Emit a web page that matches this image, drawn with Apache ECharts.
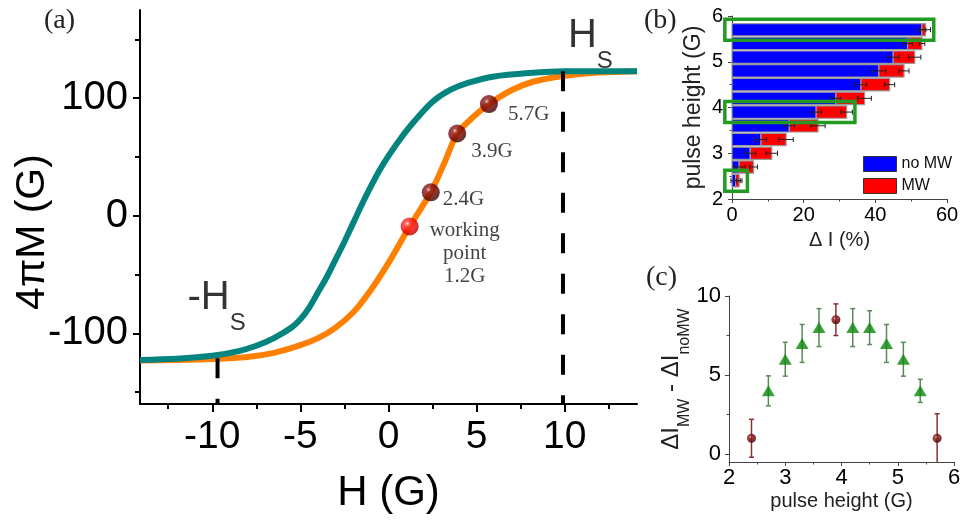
<!DOCTYPE html>
<html>
<head>
<meta charset="utf-8">
<script src="https://cdn.jsdelivr.net/npm/echarts@6/dist/echarts.min.js"></script>
<style>
html, body { margin: 0; padding: 0; background: #fff; }
#chart { width: 962px; height: 523px; }
</style>
</head>
<body>
<div id="chart"></div>
<script>
// ---- Panel (a): magnetisation curves 4πM(H) ----
const fieldOrange  = [-14.1, -12, -10, -8, -6.5, -5, -4, -3, -2, -1, 0, 1.2, 2.4, 3.2, 3.9, 4.8, 5.7, 7, 8.2, 9.7, 11.5, 14.1];
const momentOrange = [-123, -122.6, -121.8, -120, -116.5, -110, -104, -95, -82, -63, -40, -9, 20, 46, 70, 84, 95, 107, 114, 118.5, 121.5, 123];
const fieldTeal    = [-14.1, -12, -10, -8.5, -7.5, -6.5, -5.5, -5, -4.5, -4, -3.5, -3, -2.5, -2, -1.5, -1, -0.5, 0, 0.7, 1.5, 2.5, 3.5, 4.5, 6, 8, 10, 14.1];
const momentTeal   = [-122.5, -121.5, -119, -115, -110.5, -104, -95, -88, -78, -65, -52, -37, -22, -6, 10, 25, 39, 51, 66, 81, 97, 107, 113, 118.5, 121.5, 123, 123];
const pulseFields  = [1.2, 2.4, 3.9, 5.7];
const pulseMoments = [-9, 20, 70, 95];
const saturationFields  = [-9.7, 9.9];
const saturationMoments = [-121, 123];
const axisFloorA = -160;

// ---- Panel (b): ΔI versus pulse height ----
const pulseHeights = [2.4, 2.7, 3.0, 3.3, 3.6, 3.9, 4.2, 4.5, 4.8, 5.1, 5.4, 5.7];
const deltaNoMW    = [1.0, 2.0, 5.1, 8.1, 16.0, 23.5, 29.0, 36.0, 41.0, 45.0, 49.0, 53.0];
const deltaMW      = [2.0, 6.0, 11.1, 15.1, 24.0, 32.0, 37.0, 44.0, 48.0, 51.0, 53.0, 54.0];
const errNoMW      = [1.3, 1.6, 1.5, 1.5, 1.45, 1.5, 1.35, 1.6, 1.9, 1.6, 1.35, 1.1];
const errMW        = [0.8, 1.1, 1.6, 2.0, 2.0, 1.6, 1.9, 1.4, 1.4, 1.7, 0.8, 1.4];
const highlightedPulses = [2.4, 3.9, 5.7];

// ---- Panel (c): ΔI_MW − ΔI_noMW ----
const diffPulse  = [2.7, 3.0, 3.3, 3.6, 4.2, 4.5, 4.8, 5.1, 5.4];
const diffValue  = [4, 6, 7, 8, 8, 8, 7, 6, 4];
const diffErr    = [0.95, 1.07, 1.2, 1.2, 1.2, 1.07, 1.2, 1.07, 0.73];
const markedPulse = [2.4, 3.9, 5.7];
const markedValue = [1, 8.5, 1];
const markedErr   = [1.2, 1.0, 1.55];

// tick values
const ticksAx = [-10, -5, 0, 5, 10];
const minorAx = [-12.5, -7.5, -2.5, 2.5, 7.5, 12.5];
const ticksAy = [-100, 0, 100];
const minorAy = [-150, -50, 50, 150];
const ticksCy = [0, 5, 10];
const minorCy = [2.5, 7.5];

const SANS = 'Liberation Sans, Arial, sans-serif';
const SERIF = 'Liberation Serif, Times New Roman, serif';

const redBall = {
  type: 'radial', x: 0.38, y: 0.35, r: 0.65,
  colorStops: [
    { offset: 0, color: '#ffe6e6' }, { offset: 0.22, color: '#ff3b3b' },
    { offset: 0.7, color: '#ee0000' }, { offset: 1, color: '#b00000' }
  ]
};
const darkBall = {
  type: 'radial', x: 0.38, y: 0.35, r: 0.65,
  colorStops: [
    { offset: 0, color: '#e0bcbc' }, { offset: 0.22, color: '#901c1c' },
    { offset: 0.7, color: '#6a0000' }, { offset: 1, color: '#3c0000' }
  ]
};

const zip = (a, b) => a.map((v, i) => [v, b[i]]);

// label placement around the pulse markers on the orange curve
const pulseLabelLayout = [
  { position: [64, 2], align: 'center', verticalAlign: 'top', lineHeight: 23,
    formatter: p => 'working\npoint\n' + p.value[0].toFixed(1) + 'G' },
  { position: [21, 16], align: 'left', verticalAlign: 'middle', formatter: p => p.value[0].toFixed(1) + 'G' },
  { position: [23, 27], align: 'left', verticalAlign: 'middle', formatter: p => p.value[0].toFixed(1) + 'G' },
  { position: [28, 19], align: 'left', verticalAlign: 'middle', formatter: p => p.value[0].toFixed(1) + 'G' }
];

const pulseMarkers = pulseFields.map((h, i) => ({
  value: [h, pulseMoments[i]],
  itemStyle: { color: i === 0 ? redBall : darkBall },
  label: Object.assign({ show: true, fontFamily: SERIF, fontSize: 21, color: '#111' }, pulseLabelLayout[i])
}));

// horizontal bar segment [pulse, from, to]
const BAR_HALF = 0.135;
function hSegment(fill) {
  return function (params, api) {
    const p = api.value(0), a = api.value(1), b = api.value(2);
    const s = api.coord([a, p + BAR_HALF]);
    const e = api.coord([b, p - BAR_HALF]);
    return {
      type: 'rect',
      shape: { x: s[0], y: s[1], width: e[0] - s[0], height: e[1] - s[1] },
      style: { fill: fill, stroke: '#9a9a9a', lineWidth: 1.2 }
    };
  };
}

// horizontal error bar [x, pulse, err]
function hError(params, api) {
  const x = api.value(0), p = api.value(1), e = api.value(2);
  const l = api.coord([x - e, p]), r = api.coord([x + e, p]);
  const c = 2.5, st = { stroke: '#222', lineWidth: 1 };
  return { type: 'group', children: [
    { type: 'line', shape: { x1: l[0], y1: l[1], x2: r[0], y2: r[1] }, style: st },
    { type: 'line', shape: { x1: l[0], y1: l[1] - c, x2: l[0], y2: l[1] + c }, style: st },
    { type: 'line', shape: { x1: r[0], y1: r[1] - c, x2: r[0], y2: r[1] + c }, style: st }
  ]};
}

// vertical error bar [pulse, value, err]
function vError(color) {
  return function (params, api) {
    const x = api.value(0), y = api.value(1), e = api.value(2);
    const t = api.coord([x, y + e]), b = api.coord([x, y - e]);
    const c = 2.5, st = { stroke: color, lineWidth: 1.5 };
    return { type: 'group', children: [
      { type: 'line', shape: { x1: t[0], y1: t[1], x2: b[0], y2: b[1] }, style: st },
      { type: 'line', shape: { x1: t[0] - c, y1: t[1], x2: t[0] + c, y2: t[1] }, style: st },
      { type: 'line', shape: { x1: b[0] - c, y1: b[1], x2: b[0] + c, y2: b[1] }, style: st }
    ]};
  };
}

// green frame around a highlighted bar [pulse, MW value]
function frameBox(params, api) {
  const p = api.value(0), v = api.value(1);
  const s = api.coord([-2, p + 0.23]);
  const e = api.coord([v + 2.3, p - 0.23]);
  return {
    type: 'rect',
    shape: { x: s[0], y: s[1], width: e[0] - s[0], height: e[1] - s[1] },
    style: { fill: 'none', stroke: '#239b23', lineWidth: 3.5 }
  };
}

const black = '#000';
const thinAxis = { onZero: false, lineStyle: { color: '#444', width: 1 } };
const subRich = () => ({
  h: { fontSize: 40, fontFamily: SANS, color: black },
  s: { fontSize: 24, fontFamily: SANS, color: black, padding: [50, 0, 0, 0] }
});

const option = {
  animation: false,
  backgroundColor: '#fff',
  title: [
    { text: '(a)', left: 39, top: 2, textStyle: { fontFamily: SERIF, fontSize: 28, fontWeight: 'normal', color: '#222' } },
    { text: '(b)', left: 639, top: 2, textStyle: { fontFamily: SERIF, fontSize: 28, fontWeight: 'normal', color: '#222' } },
    { text: '(c)', left: 641, top: 259, textStyle: { fontFamily: SERIF, fontSize: 28, fontWeight: 'normal', color: '#222' } }
  ],
  legend: {
    orient: 'vertical', left: 858, top: 151, itemWidth: 33, itemHeight: 15, itemGap: 6,
    icon: 'rect', selectedMode: false,
    textStyle: { fontFamily: SANS, fontSize: 16, color: '#111' },
    data: [
      { name: 'no MW', itemStyle: { color: '#0000ff', borderColor: '#333', borderWidth: 1 } },
      { name: 'MW', itemStyle: { color: '#ff0000', borderColor: '#333', borderWidth: 1 } }
    ]
  },
  grid: [
    { left: 140, top: 10, width: 497, height: 394, outerBoundsMode: 'none' },
    { left: 732, top: 16, width: 215, height: 183, outerBoundsMode: 'none' },
    { left: 729, top: 296, width: 225, height: 166, outerBoundsMode: 'none' }
  ],
  xAxis: [
    { gridIndex: 0, type: 'value', min: -14.1, max: 14.1,
      axisLine: { onZero: false, lineStyle: { color: black, width: 2 } },
      axisTick: { customValues: ticksAx, length: 8, lineStyle: { color: black, width: 2 } },
      axisLabel: { customValues: ticksAx, fontFamily: SANS, fontSize: 39, color: black, margin: 14 },
      splitLine: { show: false },
      name: 'H (G)', nameLocation: 'middle', nameGap: 68, nameMoveOverlap: false,
      nameTextStyle: { fontFamily: SANS, fontSize: 42, color: black } },
    { gridIndex: 0, type: 'value', min: -14.1, max: 14.1, position: 'bottom',
      axisLine: { show: false, onZero: false },
      axisTick: { customValues: minorAx, length: 5, lineStyle: { color: black, width: 2 } },
      axisLabel: { show: false }, splitLine: { show: false } },
    { gridIndex: 1, type: 'value', min: 0, max: 60, interval: 20,
      axisLine: thinAxis,
      axisTick: { length: 4, lineStyle: { color: '#444' } },
      minorTick: { show: true, splitNumber: 2, length: 2.5, lineStyle: { color: '#444' } },
      axisLabel: { fontFamily: SANS, fontSize: 20, color: black, margin: 6 },
      splitLine: { show: false },
      name: 'Δ I (%)', nameLocation: 'middle', nameGap: 31, nameMoveOverlap: false,
      nameTextStyle: { fontFamily: SANS, fontSize: 20, color: '#222' } },
    { gridIndex: 2, type: 'value', min: 2, max: 6, interval: 1,
      axisLine: thinAxis,
      axisTick: { length: 4, lineStyle: { color: '#444' } },
      minorTick: { show: true, splitNumber: 2, length: 2.5, lineStyle: { color: '#444' } },
      axisLabel: { fontFamily: SANS, fontSize: 22, color: black, margin: 5 },
      splitLine: { show: false },
      name: 'pulse height (G)', nameLocation: 'middle', nameGap: 29, nameMoveOverlap: false,
      nameTextStyle: { fontFamily: SANS, fontSize: 20, color: '#222' } }
  ],
  yAxis: [
    { gridIndex: 0, type: 'value', min: -160, max: 175,
      axisLine: { onZero: false, lineStyle: { color: black, width: 2 } },
      axisTick: { customValues: ticksAy, length: 7, lineStyle: { color: black, width: 2 } },
      axisLabel: { customValues: ticksAy, fontFamily: SANS, fontSize: 40, color: black, margin: 12 },
      splitLine: { show: false },
      name: '4πM (G)', nameLocation: 'middle', nameRotate: 90, nameGap: 87, nameMoveOverlap: false,
      nameTextStyle: { fontFamily: SANS, fontSize: 41, color: black, padding: [0, 50, 0, 0] } },
    { gridIndex: 0, type: 'value', min: -160, max: 175, position: 'left',
      axisLine: { show: false, onZero: false },
      axisTick: { customValues: minorAy, length: 5, lineStyle: { color: black, width: 2 } },
      axisLabel: { show: false }, splitLine: { show: false } },
    { gridIndex: 1, type: 'value', min: 2, max: 6, interval: 1,
      axisLine: thinAxis,
      axisTick: { length: 4, lineStyle: { color: '#444' } },
      minorTick: { show: true, splitNumber: 2, length: 2.5, lineStyle: { color: '#444' } },
      axisLabel: { fontFamily: SANS, fontSize: 20, color: black, margin: 9 },
      splitLine: { show: false },
      name: 'pulse height (G)', nameLocation: 'middle', nameRotate: 90, nameGap: 27, nameMoveOverlap: false,
      nameTextStyle: { fontFamily: SANS, fontSize: 23, color: '#222' } },
    { gridIndex: 2, type: 'value', min: -0.5, max: 10,
      axisLine: thinAxis,
      axisTick: { customValues: ticksCy, length: 4, lineStyle: { color: '#444' } },
      axisLabel: { customValues: ticksCy, fontFamily: SANS, fontSize: 22, color: black, margin: 8 },
      splitLine: { show: false },
      name: '{m|ΔI}{s|MW}{m| - ΔI}{s|noMW}', nameLocation: 'middle', nameRotate: 90, nameGap: 36, nameMoveOverlap: false,
      nameTextStyle: { color: '#222', fontFamily: SANS,
        rich: { m: { fontSize: 24, fontFamily: SANS, color: '#222' },
                s: { fontSize: 16, fontFamily: SANS, color: '#222', padding: [28, 0, 0, 0] } } } },
    { gridIndex: 2, type: 'value', min: -0.5, max: 10, position: 'left',
      axisLine: { show: false, onZero: false },
      axisTick: { customValues: minorCy, length: 2.5, lineStyle: { color: '#444' } },
      axisLabel: { show: false }, splitLine: { show: false } }
  ],
  series: [
    // panel (a)
    { type: 'line', xAxisIndex: 0, yAxisIndex: 0, data: zip(fieldOrange, momentOrange),
      smooth: 0.3, symbol: 'none', lineStyle: { color: '#ff8000', width: 6 }, z: 2 },
    { type: 'line', xAxisIndex: 0, yAxisIndex: 0, data: zip(fieldTeal, momentTeal),
      smooth: 0.3, symbol: 'none', lineStyle: { color: '#04847f', width: 6 }, z: 3 },
    ...saturationFields.map((h, i) => ({
      type: 'line', xAxisIndex: 0, yAxisIndex: 0, data: [[h, saturationMoments[i]], [h, axisFloorA]],
      symbol: 'none', lineStyle: { color: black, width: 4, type: [20, 20.5] }, z: 4
    })),
    { type: 'scatter', xAxisIndex: 0, yAxisIndex: 0, symbolSize: 18, data: pulseMarkers, z: 6 },
    { type: 'scatter', xAxisIndex: 0, yAxisIndex: 0, symbolSize: 0.1, z: 6,
      itemStyle: { color: 'rgba(0,0,0,0)' },
      data: [
        { value: [saturationFields[0], saturationMoments[0]],
          label: { show: true, formatter: '{h|-H}{s|S}', position: [-30, -23], align: 'left', verticalAlign: 'bottom',
            rich: subRich() } },
        { value: [saturationFields[1], saturationMoments[1]],
          label: { show: true, formatter: '{h|H}{s|S}', position: [5, 2], align: 'left', verticalAlign: 'bottom',
            rich: subRich() } }
      ] },

    // panel (b)
    { type: 'custom', name: 'no MW', xAxisIndex: 2, yAxisIndex: 2, itemStyle: { color: '#0000ff' },
      renderItem: hSegment('#0000ff'), encode: { x: [1, 2], y: 0 },
      data: pulseHeights.map((p, i) => [p, 0, deltaNoMW[i]]), z: 2 },
    { type: 'custom', name: 'MW', xAxisIndex: 2, yAxisIndex: 2, itemStyle: { color: '#ff0000' },
      renderItem: hSegment('#ff0000'), encode: { x: [1, 2], y: 0 },
      data: pulseHeights.map((p, i) => [p, deltaNoMW[i], deltaMW[i]]), z: 2 },
    { type: 'custom', xAxisIndex: 2, yAxisIndex: 2, renderItem: hError, encode: { x: 0, y: 1 },
      data: pulseHeights.map((p, i) => [deltaNoMW[i], p, errNoMW[i]])
        .concat(pulseHeights.map((p, i) => [deltaMW[i], p, errMW[i]])), z: 3 },
    { type: 'custom', xAxisIndex: 2, yAxisIndex: 2, renderItem: frameBox, encode: { x: 1, y: 0 },
      data: highlightedPulses.map(p => [p, deltaMW[pulseHeights.indexOf(p)]]), z: 4 },

    // panel (c)
    { type: 'custom', xAxisIndex: 3, yAxisIndex: 3, renderItem: vError('#5a8a5a'), clip: true,
      encode: { x: 0, y: 1 }, data: diffPulse.map((p, i) => [p, diffValue[i], diffErr[i]]), z: 2 },
    { type: 'custom', xAxisIndex: 3, yAxisIndex: 3, renderItem: vError('#8b3030'), clip: true,
      encode: { x: 0, y: 1 }, data: markedPulse.map((p, i) => [p, markedValue[i], markedErr[i]]), z: 2 },
    { type: 'scatter', xAxisIndex: 3, yAxisIndex: 3, symbol: 'triangle', symbolSize: [13, 11],
      itemStyle: { color: '#0b870b' }, data: zip(diffPulse, diffValue), z: 4 },
    { type: 'scatter', xAxisIndex: 3, yAxisIndex: 3, symbol: 'circle', symbolSize: 9,
      itemStyle: { color: darkBall }, data: zip(markedPulse, markedValue), z: 4 }
  ]
};

const chart = echarts.init(document.getElementById('chart'), null, { renderer: 'canvas' });
chart.setOption(option);
</script>
</body>
</html>
